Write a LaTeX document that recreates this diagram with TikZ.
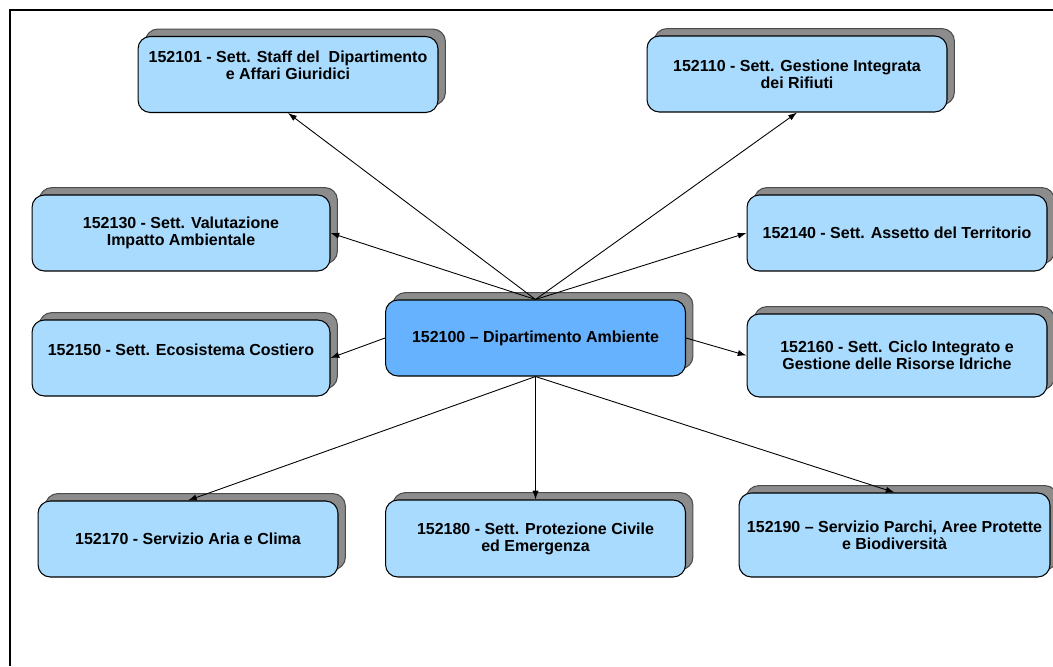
\documentclass[tikz,border=0pt]{standalone}
\usepackage{fontspec}
\setmainfont{Liberation Sans}
\usepackage{tikz}
\usetikzlibrary{shadows,arrows.meta}

\definecolor{settblue}{HTML}{A8DBFD}
\definecolor{dipblue}{HTML}{66B2FF}

\tikzset{
  sett/.style={draw, line width=0.6pt, rounded corners=7pt, fill=settblue,
    align=center, font=\bfseries\fontsize{9.1}{9.8}\selectfont,
    minimum width=6cm, minimum height=1.52cm, inner sep=2pt,
    general shadow={shadow xshift=4.2pt, shadow yshift=4.2pt,
      fill=black!45, draw=black!70}},
  dip/.style={fill=dipblue},
  link/.style={-{Latex[length=5pt,width=3.5pt]}, line width=0.5pt}
}

\begin{document}
\begin{tikzpicture}[x=0.02cm, y=-0.02cm]
        \useasboundingbox (0,0) rectangle (1053,666);
        \draw[line width=1.6pt] (10,666) -- (10,10) -- (1053,10);

        % Dipartimento
        \node[sett, dip] (dip) at (535.5,338) {152100 -- Dipartimento Ambiente};

        % Settori
        \node[sett, text depth=10.4pt] (s101) at (288,74.5) {152101 - Sett. Staff del\ \ Dipartimento\\e Affari Giuridici};
        \node[sett] (s110) at (797,74) {152110 - Sett. Gestione Integrata\\dei Rifiuti};
        \node[sett, minimum width=5.96cm] (s130) at (181,233) {152130 - Sett. Valutazione\\Impatto Ambientale};
        \node[sett] (s140) at (897,233) {152140 - Sett. Assetto del Territorio};
        \node[sett, minimum width=5.96cm, text depth=9pt] (s150) at (181,358) {152150 - Sett. Ecosistema Costiero};
        \node[sett, minimum height=1.66cm] (s160) at (897,355.5) {152160 - Sett. Ciclo Integrato e\\Gestione delle Risorse Idriche};
        \node[sett] (s170) at (188,539) {152170 - Servizio Aria e Clima};
        \node[sett, minimum height=1.54cm] (s180) at (535.5,538.5) {152180 - Sett. Protezione Civile\\ed Emergenza};
        \node[sett, minimum width=6.22cm, minimum height=1.68cm] (s190) at (894.5,535) {152190 -- Servizio Parchi, Aree Protette\\e Biodiversità};

        % Collegamenti
        \draw[link] (dip.north) -- (s101.south);
        \draw[link] (dip.north) -- (s110.south);
        \draw[link] (dip.north) -- (s130.east);
        \draw[link] (dip.north) -- (s140.west);
        \draw[link] (dip.west) -- (s150.east);
        \draw[link] (dip.east) -- (s160.west);
        \foreach \s in {s170,s180,s190}
            \draw[link] (dip.south) -- (\s.north);
    \end{tikzpicture}
\end{document}
